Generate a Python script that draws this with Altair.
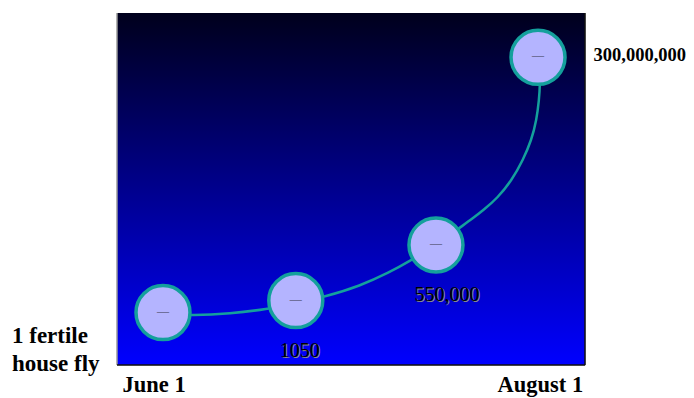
import altair as alt
import pandas as pd

# ---- data ----
stage_day = [0, 21.6, 44.4, 61]            # x: days after June 1
stage_level = [14.9, 18.3, 34.1, 87.4]     # y: relative growth level (0-100)
stage_labels = ["1 fertile house fly", "1050", "550,000", "300,000,000"]

curve_day = [0, 4.88, 10.9, 16.92, 21.63, 26.35, 32.05, 36.93, 39.85, 44.41,
             48.31, 50.26, 52.22, 54.33, 56.77, 58.56, 59.94, 60.76, 61.16,
             61.33, 61.33]
curve_level = [14.35, 14.06, 14.63, 15.82, 17.61, 19.4, 22.44, 26.42, 29.26, 34.09,
               39.06, 41.48, 44.18, 47.3, 52.56, 58.24, 63.92, 69.6, 75.28,
               79.55, 87.5]

date_days = [0, 61]
date_labels = ["June 1", "August 1"]

# ---- tables ----
stages = pd.DataFrame({"day": stage_day, "level": stage_level, "label": stage_labels})
curve = pd.DataFrame({"i": list(range(len(curve_day))), "day": curve_day, "level": curve_level})
dates = pd.DataFrame({"day": date_days, "label": date_labels})
one = pd.DataFrame({"k": [0]})

W, H = 468, 352
FONT = "Liberation Serif"
TEAL = "#14a09c"

xs = alt.Scale(domain=[-7.48, 68.64], nice=False, zero=False)
ys = alt.Scale(domain=[0, 100], nice=False, zero=False)
X = alt.X("day:Q", scale=xs, axis=None)
Y = alt.Y("level:Q", scale=ys, axis=None)

grad = alt.LinearGradient(
    gradient="linear",
    stops=[alt.GradientStop(color="#00001c", offset=0),
           alt.GradientStop(color="#0000ff", offset=1)],
    x1=0, x2=0, y1=0, y2=1)

bg = alt.Chart(one).mark_rect(fill=grad).encode(
    x=alt.value(0), x2=alt.value(W), y=alt.value(0), y2=alt.value(H))

left_edge = alt.Chart(one).mark_rule(color="#9a9a9a", strokeWidth=1.5).encode(
    x=alt.value(0), y=alt.value(0), y2=alt.value(H))
bottom_edge = alt.Chart(one).mark_rule(color="#111111", strokeWidth=1.5).encode(
    x=alt.value(0), x2=alt.value(W), y=alt.value(H))
right_edge = alt.Chart(one).mark_rule(color="#111111", strokeWidth=1.5).encode(
    x=alt.value(W), y=alt.value(0), y2=alt.value(H))

line = alt.Chart(curve).mark_line(color=TEAL, strokeWidth=2.5,
                                  interpolate="basis").encode(
    x=X, y=Y, order="i:Q")

circles = alt.Chart(stages).mark_circle(
    size=2916, fill="#b4b4ff", stroke=TEAL, strokeWidth=3.5,
    fillOpacity=1, strokeOpacity=1, opacity=1).encode(x=X, y=Y)

dashes = alt.Chart(stages).mark_text(
    text="\u2014", font=FONT, fontSize=12, fontWeight="bold", color="#70709c",
    baseline="middle", dy=-2).encode(x=X, y=Y)


def stage_text(label, dx, dy, size, weight="bold", align="center", shadow=False):
    base = alt.Chart(stages).transform_filter(alt.datum.label == label)
    layers = []
    if shadow:
        layers.append(base.mark_text(font=FONT, fontSize=size, fontWeight=weight,
                                     align=align, baseline="alphabetic",
                                     color="#8c8c8c", dx=dx + 1, dy=dy + 1)
                      .encode(x=X, y=Y, text="label:N"))
    layers.append(base.mark_text(font=FONT, fontSize=size, fontWeight=weight,
                                 align=align, baseline="alphabetic",
                                 color="#000000", dx=dx, dy=dy)
                  .encode(x=X, y=Y, text="label:N"))
    return layers


fly = alt.Chart(stages).transform_filter(alt.datum.label == "1 fertile house fly").transform_calculate(
    lines="['1 fertile', 'house fly']").mark_text(
    font=FONT, fontSize=23, fontWeight="bold", align="left", baseline="alphabetic",
    color="#000000", dx=-151, dy=30, lineHeight=28).encode(x=X, y=Y, text="lines:N")

labels = []
labels += stage_text("1050", 4, 56.5, 20, weight="normal", shadow=True)
labels += stage_text("550,000", 11, 56.5, 20, weight="normal", shadow=True)
labels += stage_text("300,000,000", 55.5, 3.5, 18.5, weight="bold", align="left")

date_text = alt.Chart(dates).mark_text(
    font=FONT, fontSize=22.5, fontWeight="bold", align="left", baseline="alphabetic",
    color="#000000", dx=-40.5, dy=27).encode(x=X, y=alt.value(H), text="label:N")

chart = alt.layer(bg, line, circles, dashes, left_edge, bottom_edge, right_edge,
                  fly, *labels, date_text).properties(
    width=W, height=H,
    padding={"left": 109, "top": 5, "right": 101, "bottom": 33},
    autosize=alt.AutoSizeParams(type="none"),
).configure_view(strokeWidth=0).configure(background="white")

chart.save("out.html", embed_options={"renderer": "svg", "actions": False})
